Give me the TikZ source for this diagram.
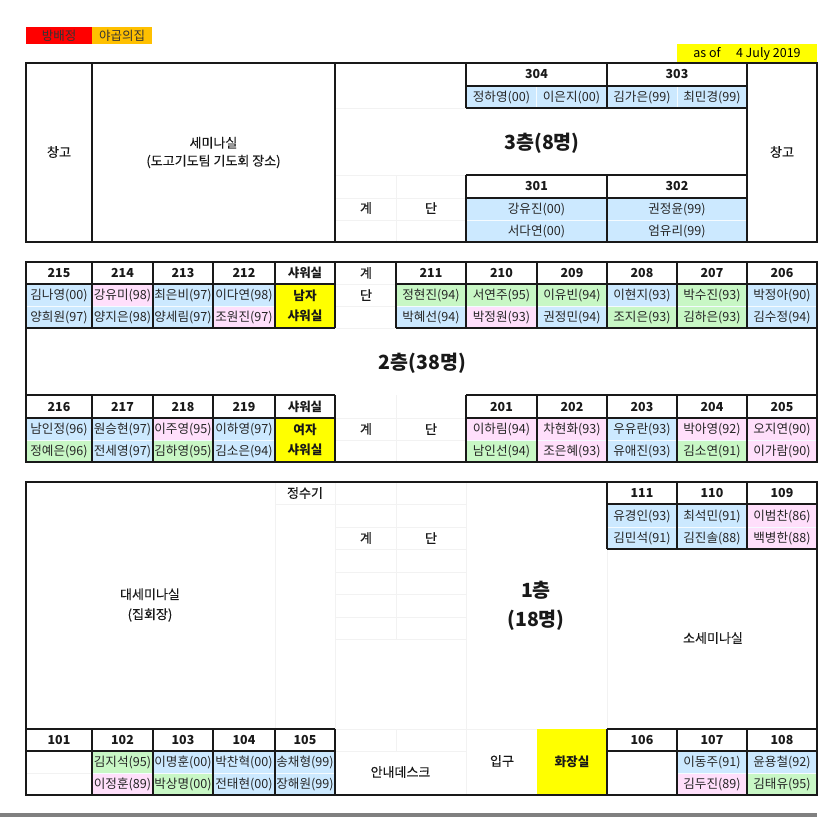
\documentclass[tikz,border=0pt]{standalone}
\usepackage{fontspec}
\setmainfont{Noto Sans CJK KR}
\newfontfamily\semifont[FakeBold=0.35]{Noto Sans CJK KR}
\usetikzlibrary{positioning}
\definecolor{seatblue}{HTML}{CCE9FF}
\definecolor{seatpink}{HTML}{FFDFFB}
\definecolor{seatgreen}{HTML}{C8F7C5}
\definecolor{legendorange}{HTML}{FFC000}
\definecolor{roomyellow}{HTML}{FFFF00}
\tikzset{
  seat/.style={inner sep=0pt, minimum height=22pt, text height=10.5pt, text depth=2pt,
               font=\fontsize{12.6}{14}\selectfont, text=black!85},
  blueseat/.style={seat, fill=seatblue},
  pinkseat/.style={seat, fill=seatpink},
  greenseat/.style={seat, fill=seatgreen},
  room/.style={inner sep=0pt, text height=10.5pt, text depth=2pt,
               font=\fontsize{12.4}{14}\bfseries\selectfont, text=black!90},
  lab/.style={inner sep=0pt, align=center, font=\fontsize{13}{18}\semifont\selectfont, text=black!90},
  floorlab/.style={inner sep=0pt, align=center, font=\fontsize{19.5}{29}\bfseries\selectfont, text=black!90},
  yellowroom/.style={lab, fill=roomyellow, font=\fontsize{12.6}{20}\bfseries\selectfont},
  legend/.style={inner sep=0pt, minimum height=17.5pt, font=\fontsize{12.5}{14}\selectfont},
  wa/.style={minimum width=66pt},
  wb/.style={minimum width=61pt},
  wc/.style={minimum width=60pt},
  wd/.style={minimum width=62pt},
  wn/.style={minimum width=70.5pt},
  wall/.style={line width=1.9pt, black!90},
  faint/.style={line width=0.6pt, black!5},
  rowsep/.style={line width=0.6pt, white!80!seatblue},
  floorbar/.style={fill=black!50, draw=none},
}
\begin{document}
\begin{tikzpicture}[x=1pt,y=-1pt]
  \useasboundingbox (0,0) rectangle (839,822);
  % legend
  \node[legend, fill=red, minimum width=66pt, text=black!80] (lgroom) at (59,35.5) {방배정};
  \node[legend, fill=legendorange, minimum width=60pt, text=black!80] (lgjacob) at (122,35.5) {야곱의집};
  \node[legend, fill=roomyellow, minimum width=140pt, minimum height=19pt] (asof) at (747,53.5) {as of\quad\ 4 July 2019};

  % third floor
  \node[lab] (store3l) at (59,152) {창고};
  \node[lab] (sem3) at (213.5,152.5) {세미나실\\(도고기도팀 기도회 장소)};
  \node[lab] (store3r) at (782,152) {창고};
  \node[floorlab] (fl3) at (542,143) {3층(8명)};
  \node[lab] (gye3) at (366,208) {계};
  \node[lab] (dan3) at (431,208) {단};
  \node[room] (r304) at (536.5,74.5) {304};
  \node[room] (r303) at (677,74.5) {303};
  \node[room] (r301) at (536.5,186.5) {301};
  \node[room] (r302) at (677,186.5) {302};
  \node[blueseat, wn] (s304a) at (501.5,97) {정하영(00)};
  \node[blueseat, wn] (s304b) at (571.5,97) {이은지(00)};
  \node[blueseat, wn] (s303a) at (642,97) {김가은(99)};
  \node[blueseat, wn] (s303b) at (712,97) {최민경(99)};
  \node[blueseat, minimum width=141pt] (s301a) at (536.5,209) {강유진(00)};
  \node[blueseat, minimum width=141pt] (s301b) at (536.5,231) {서다연(00)};
  \node[blueseat, minimum width=140pt] (s302a) at (677,209) {권정윤(99)};
  \node[blueseat, minimum width=140pt] (s302b) at (677,231) {엄유리(99)};

  % second floor, upper row
  \node[room] (r215) at (59,273) {215};
  \node[room] (r214) at (122.5,273) {214};
  \node[room] (r213) at (183,273) {213};
  \node[room] (r212) at (244,273) {212};
  \node[room] (shm) at (305,273) {샤워실};
  \node[lab] (gye2a) at (366,273) {계};
  \node[lab] (dan2a) at (366,295) {단};
  \node[room] (r211) at (431,273) {211};
  \node[room] (r210) at (501.5,273) {210};
  \node[room] (r209) at (572,273) {209};
  \node[room] (r208) at (642,273) {208};
  \node[room] (r207) at (712,273) {207};
  \node[room] (r206) at (782,273) {206};
  \node[blueseat, wa] (s215a) at (59,295) {김나영(00)};
  \node[blueseat, wa] (s215b) at (59,317) {양희원(97)};
  \node[pinkseat, wb] (s214a) at (122.5,295) {강유미(98)};
  \node[blueseat, wb] (s214b) at (122.5,317) {양지은(98)};
  \node[blueseat, wc] (s213a) at (183,295) {최은비(97)};
  \node[blueseat, wc] (s213b) at (183,317) {양세림(97)};
  \node[blueseat, wd] (s212a) at (244,295) {이다연(98)};
  \node[pinkseat, wd] (s212b) at (244,317) {조원진(97)};
  \node[yellowroom, minimum width=60pt, minimum height=44pt] (menshower) at (305,306) {남자\\샤워실};
  \node[greenseat, wn] (s211a) at (431,295) {정현진(94)};
  \node[blueseat, wn] (s211b) at (431,317) {박혜선(94)};
  \node[greenseat, wn] (s210a) at (501.5,295) {서연주(95)};
  \node[pinkseat, wn] (s210b) at (501.5,317) {박정원(93)};
  \node[greenseat, wn] (s209a) at (572,295) {이유빈(94)};
  \node[blueseat, wn] (s209b) at (572,317) {권정민(94)};
  \node[blueseat, wn] (s208a) at (642,295) {이현지(93)};
  \node[greenseat, wn] (s208b) at (642,317) {조지은(93)};
  \node[greenseat, wn] (s207a) at (712,295) {박수진(93)};
  \node[greenseat, wn] (s207b) at (712,317) {김하은(93)};
  \node[blueseat, wn] (s206a) at (782,295) {박정아(90)};
  \node[blueseat, wn] (s206b) at (782,317) {김수정(94)};
  \node[floorlab] (fl2) at (422.5,363.5) {2층(38명)};

  % second floor, lower row
  \node[room] (r216) at (59,407) {216};
  \node[room] (r217) at (122.5,407) {217};
  \node[room] (r218) at (183,407) {218};
  \node[room] (r219) at (244,407) {219};
  \node[room] (shw) at (305,407) {샤워실};
  \node[lab] (gye2b) at (366,429) {계};
  \node[lab] (dan2b) at (431,429) {단};
  \node[room] (r201) at (501.5,407) {201};
  \node[room] (r202) at (572,407) {202};
  \node[room] (r203) at (642,407) {203};
  \node[room] (r204) at (712,407) {204};
  \node[room] (r205) at (782,407) {205};
  \node[blueseat, wa] (s216a) at (59,429) {남인정(96)};
  \node[greenseat, wa] (s216b) at (59,451) {정예은(96)};
  \node[blueseat, wb] (s217a) at (122.5,429) {원승현(97)};
  \node[blueseat, wb] (s217b) at (122.5,451) {전세영(97)};
  \node[pinkseat, wc] (s218a) at (183,429) {이주영(95)};
  \node[greenseat, wc] (s218b) at (183,451) {김하영(95)};
  \node[blueseat, wd] (s219a) at (244,429) {이하영(97)};
  \node[blueseat, wd] (s219b) at (244,451) {김소은(94)};
  \node[yellowroom, minimum width=60pt, minimum height=44pt] (womenshower) at (305,440) {여자\\샤워실};
  \node[pinkseat, wn] (s201a) at (501.5,429) {이하림(94)};
  \node[greenseat, wn] (s201b) at (501.5,451) {남인선(94)};
  \node[pinkseat, wn] (s202a) at (572,429) {차현화(93)};
  \node[pinkseat, wn] (s202b) at (572,451) {조은혜(93)};
  \node[blueseat, wn] (s203a) at (642,429) {우유란(93)};
  \node[blueseat, wn] (s203b) at (642,451) {유애진(93)};
  \node[pinkseat, wn] (s204a) at (712,429) {박아영(92)};
  \node[greenseat, wn] (s204b) at (712,451) {김소연(91)};
  \node[pinkseat, wn] (s205a) at (782,429) {오지연(90)};
  \node[pinkseat, wn] (s205b) at (782,451) {이가람(90)};

  % first floor
  \node[lab, font=\fontsize{13}{20}\semifont\selectfont] (hall) at (150,605) {대세미나실\\(집회장)};
  \node[lab] (water) at (305,493) {정수기};
  \node[lab] (gye1) at (366,538) {계};
  \node[lab] (dan1) at (431,538) {단};
  \node[floorlab] (fl1) at (536,606) {1층\\(18명)};
  \node[lab] (smallsem) at (713,638) {소세미나실};
  \node[room] (r111) at (642,493) {111};
  \node[room] (r110) at (712,493) {110};
  \node[room] (r109) at (782,493) {109};
  \node[blueseat, wn] (s111a) at (642,516) {유경인(93)};
  \node[blueseat, wn] (s111b) at (642,538) {김민석(91)};
  \node[blueseat, wn] (s110a) at (712,516) {최석민(91)};
  \node[blueseat, wn] (s110b) at (712,538) {김진솔(88)};
  \node[pinkseat, wn] (s109a) at (782,516) {이범찬(86)};
  \node[pinkseat, wn] (s109b) at (782,538) {백병한(88)};
  \node[room] (r101) at (59,740) {101};
  \node[room] (r102) at (122.5,740) {102};
  \node[room] (r103) at (183,740) {103};
  \node[room] (r104) at (244,740) {104};
  \node[room] (r105) at (305,740) {105};
  \node[greenseat, wb] (s102a) at (122.5,762) {김지석(95)};
  \node[pinkseat, wb] (s102b) at (122.5,784) {이정훈(89)};
  \node[blueseat, wc] (s103a) at (183,762) {이명훈(00)};
  \node[greenseat, wc] (s103b) at (183,784) {박상명(00)};
  \node[blueseat, wd] (s104a) at (244,762) {박찬혁(00)};
  \node[blueseat, wd] (s104b) at (244,784) {전태현(00)};
  \node[blueseat, wc] (s105a) at (305,762) {송채형(99)};
  \node[blueseat, wc] (s105b) at (305,784) {장해원(99)};
  \node[lab] (desk) at (400.5,772) {안내데스크};
  \node[lab] (entry) at (502,761) {입구};
  \node[yellowroom, minimum width=70pt, minimum height=66pt] (toilet) at (572,762) {화장실};
  \node[room] (r106) at (642,740) {106};
  \node[room] (r107) at (712,740) {107};
  \node[room] (r108) at (782,740) {108};
  \node[blueseat, wn] (s107a) at (712,762) {이동주(91)};
  \node[pinkseat, wn] (s107b) at (712,784) {김두진(89)};
  \node[blueseat, wn] (s108a) at (782,762) {윤용철(92)};
  \node[greenseat, wn] (s108b) at (782,784) {김태유(95)};

  % faint sheet lines
  \draw[faint] (335,108) -- (466,108) (335,175) -- (466,175) (335,198) -- (466,198) (335,220) -- (466,220) (396,175) -- (396,242);
  \draw[faint] (335,284) -- (396,284) (335,306) -- (396,306) (335,328) -- (396,328);
  \draw[faint] (335,418) -- (466,418) (335,440) -- (466,440) (396,395) -- (396,462);
  \foreach \ry in {504,527,549,572,594,617,639}
    \draw[faint] (335,\ry) -- (466,\ry);
  \draw[faint] (275,504) -- (335,504) (275,482) -- (275,729) (335,482) -- (335,729) (396,482) -- (396,639) (466,482) -- (466,795);
  \draw[faint] (607,549) -- (607,729) (335,729) -- (537,729) (335,751) -- (466,751) (396,729) -- (396,751);

  % lighter seams between seats
  \draw[rowsep] (466,220) -- (747,220) (26,306) -- (275,306) (396,306) -- (817,306) (26,440) -- (275,440) (466,440) -- (817,440);
  \draw[rowsep] (607,527) -- (817,527) (92,773) -- (335,773) (677,773) -- (817,773) (536.5,86) -- (536.5,108) (677,86) -- (677,108);
  \draw[faint] (26,773) -- (92,773);

  % walls
  \draw[wall] (26,63) rectangle (817,242);
  \foreach \wx in {92,335,747}
    \draw[wall] (\wx,63) -- (\wx,242);
  \draw[wall] (466,63) -- (466,108) (607,63) -- (607,108) (466,175) -- (466,242) (607,175) -- (607,242);
  \draw[wall] (466,86) -- (747,86) (466,108) -- (747,108) (466,175) -- (747,175) (466,198) -- (747,198);
  \draw[wall] (26,262) rectangle (817,462);
  \foreach \wx in {92,153,213,275,335,396,466,537,607,677,747}
    \draw[wall] (\wx,262) -- (\wx,328);
  \foreach \wx in {92,153,213,275,335,466,537,607,677,747}
    \draw[wall] (\wx,395) -- (\wx,462);
  \draw[wall] (26,284) -- (335,284) (396,284) -- (817,284) (26,328) -- (335,328) (396,328) -- (817,328);
  \draw[wall] (26,395) -- (335,395) (466,395) -- (817,395) (26,418) -- (335,418) (466,418) -- (817,418);
  \draw[wall] (26,482) rectangle (817,795);
  \draw[wall] (607,504) -- (817,504) (607,549) -- (817,549);
  \foreach \wx in {607,677,747}
    \draw[wall] (\wx,482) -- (\wx,549);
  \foreach \wx in {92,153,213,275,335,607,677,747}
    \draw[wall] (\wx,729) -- (\wx,795);
  \draw[wall] (26,729) -- (335,729) (607,729) -- (817,729) (26,751) -- (335,751) (607,751) -- (817,751);
  \fill[floorbar] (0,813) rectangle (817,817);
\end{tikzpicture}
\end{document}
